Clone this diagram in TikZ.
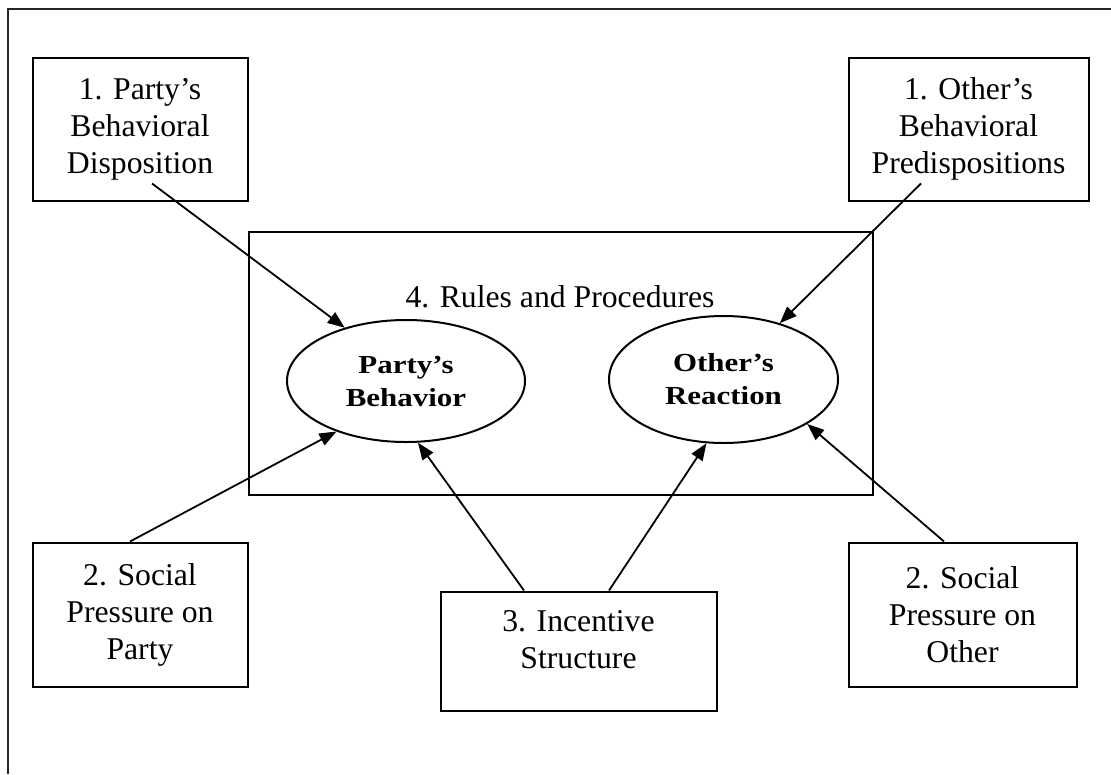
\documentclass[tikz,border=0pt]{standalone}
\usepackage{fontspec}
\setmainfont{Liberation Serif}
\newfontfamily\outcomefont{Liberation Serif}[Ligatures=TeX, FakeStretch=1.19]
\usetikzlibrary{arrows.meta,shapes.geometric}

\tikzset{
  factorbox/.style={draw=black, line width=2pt, rectangle, inner sep=0pt,
    align=center, font=\fontsize{31.7}{37}\selectfont},
  outcome/.style={draw=black, line width=2pt, ellipse, inner sep=0pt,
    align=center, font=\outcomefont\fontsize{26}{33}\selectfont\bfseries},
  influence/.style={line width=1.8pt, -{Triangle[length=17pt,width=13pt]}},
  frameline/.style={line width=2pt, draw=black!85}
}

\begin{document}
\begin{tikzpicture}[x=1pt, y=-1pt]
  \useasboundingbox (0,0) rectangle (1111,774);

  % outer frame (runs off the page on the right and at the bottom)
  \draw[frameline] (8,774) -- (8,9) -- (1111,9);

  % rules and procedures setting
  \node[draw=black, line width=2pt, rectangle, inner sep=0pt,
        minimum width=624pt, minimum height=263pt] (rules) at (560.5,363) {};
  \node[anchor=base, font=\fontsize{31.7}{37}\selectfont, inner sep=0pt]
        (ruleslabel) at (560,307) {4. Rules and Procedures};

  % the two interacting behaviours
  \node[outcome, minimum width=238pt, minimum height=122pt] (pb) at (406,381)
        {Party's\\Behavior};
  \node[outcome, minimum width=229pt, minimum height=127pt] (or) at (723.5,379.5)
        {Other's\\Reaction};

  % influencing factors
  \node[factorbox, minimum width=215pt, minimum height=143pt] (p1) at (140,129)
        {1. Party's\\Behavioral\\Disposition};
  \node[factorbox, minimum width=240pt, minimum height=143pt] (o1) at (968.5,129)
        {1. Other's\\Behavioral\\Predispositions};
  \node[factorbox, minimum width=215pt, minimum height=144pt] (sp) at (140,614.5)
        {2. Social\\Pressure on\\Party};
  \node[factorbox, minimum width=228pt, minimum height=144pt] (so) at (962.5,614.5)
        {2. Social\\Pressure on\\Other};
  \node[factorbox, minimum width=276pt, minimum height=119pt,
        label={[font=\fontsize{31.7}{37}\selectfont, align=center, yshift=11pt]center:3. Incentive\\Structure}]
        (incent) at (578.5,651) {};

  % influences
  \draw[influence] ([xshift=12pt,yshift=18pt]p1.south) -- (pb.139);
  \draw[influence] ([xshift=-47.5pt,yshift=18pt]o1.south) -- (or.45);
  \draw[influence] ([xshift=-10pt]sp.north) -- (pb.216);
  \draw[influence] ([xshift=-54.5pt]incent.north) -- (pb.281);
  \draw[influence] ([xshift=30.5pt]incent.north) -- (or.255);
  \draw[influence] ([xshift=-18.5pt]so.north) -- (or.332);
\end{tikzpicture}
\end{document}
